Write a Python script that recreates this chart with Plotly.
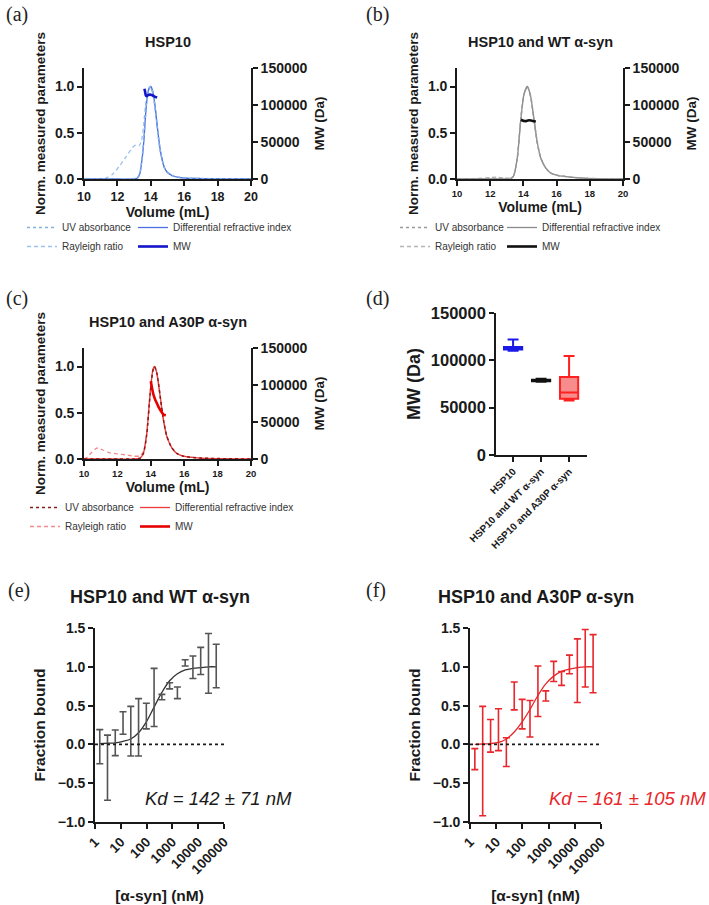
import plotly.graph_objects as go

W, H = 709, 905
FONT = "Liberation Sans, Arial, sans-serif"
SERIF = "Liberation Serif, Times New Roman, serif"
INK = "#1a1a1a"

# ---------------- Panel (a): HSP10 SEC-MALS ----------------
vol_a = [10, 12, 13.0, 13.2, 13.35, 13.5, 13.6, 13.7, 13.8, 13.9, 14.0, 14.1, 14.2, 14.3, 14.4, 14.5, 14.6, 14.8, 15.0, 15.3, 15.6, 16.0, 17.0, 20.0]
dri_a = [0, 0, 0, 0.01, 0.06, 0.25, 0.45, 0.72, 0.90, 0.98, 1.0, 0.96, 0.86, 0.72, 0.55, 0.40, 0.28, 0.13, 0.07, 0.035, 0.02, 0.01, 0.005, 0]
uv_a = [0, 0, 0.005, 0.015, 0.07, 0.27, 0.47, 0.74, 0.91, 0.98, 1.0, 0.95, 0.85, 0.70, 0.54, 0.39, 0.27, 0.13, 0.07, 0.035, 0.02, 0.01, 0.005, 0]
vol_a_ray = [10, 11, 11.3, 11.7, 12.1, 12.5, 12.9, 13.1, 13.3, 13.45, 13.55, 13.7, 13.85, 13.95, 14.0, 14.1, 14.2, 14.3, 14.4, 14.5, 14.6, 14.8, 15.0, 15.3, 15.6, 16.0, 17.0, 20.0]
ray_a = [0, 0, 0.01, 0.05, 0.135, 0.235, 0.34, 0.365, 0.36, 0.42, 0.55, 0.82, 0.96, 1.0, 0.99, 0.93, 0.84, 0.70, 0.53, 0.38, 0.27, 0.13, 0.07, 0.035, 0.02, 0.01, 0.005, 0]
vol_a_mw = [13.62, 13.66, 13.7, 13.75, 13.85, 13.95, 14.05, 14.15, 14.25, 14.38]
mw_a = [122000, 118000, 113000, 112000, 113500, 114000, 113500, 112500, 111000, 110000]

# ---------------- Panel (b): HSP10 + WT a-syn ----------------
vol_b = [10, 11, 12, 12.4, 12.8, 13.2, 13.4, 13.64, 13.84, 14.04, 14.24, 14.44, 14.64, 14.84, 15.04, 15.34, 15.64, 16.04, 16.84, 17.84, 20]
dri_b = [0, 0, 0, 0, 0, 0, 0.03, 0.24, 0.64, 0.92, 1.0, 0.89, 0.64, 0.39, 0.23, 0.12, 0.065, 0.04, 0.02, 0.007, 0]
uv_b = [0, 0, 0.005, 0.005, 0.005, 0.005, 0.03, 0.24, 0.64, 0.92, 1.0, 0.89, 0.64, 0.39, 0.23, 0.12, 0.065, 0.04, 0.02, 0.007, 0]
ray_b = [0.003, 0.005, 0.015, 0.02, 0.012, 0.01, 0.03, 0.24, 0.64, 0.92, 1.0, 0.89, 0.64, 0.39, 0.23, 0.12, 0.065, 0.04, 0.02, 0.007, 0]
vol_b_mw = [13.85, 13.95, 14.05, 14.15, 14.25, 14.35, 14.45, 14.55, 14.65, 14.75]
mw_b = [80000, 79000, 78300, 78200, 78800, 79300, 79000, 78500, 78000, 77800]

# ---------------- Panel (c): HSP10 + A30P a-syn ----------------
vol_c = [10, 12, 13.0, 13.36, 13.56, 13.76, 13.96, 14.12, 14.22, 14.36, 14.56, 14.76, 14.96, 15.26, 15.56, 15.96, 16.96, 20]
dri_c = [0, 0, 0, 0.01, 0.065, 0.28, 0.71, 0.96, 1.0, 0.93, 0.68, 0.42, 0.245, 0.12, 0.06, 0.03, 0.01, 0]
uv_c = [0, 0, 0, 0.01, 0.06, 0.27, 0.70, 0.95, 1.0, 0.93, 0.68, 0.42, 0.245, 0.12, 0.06, 0.03, 0.01, 0]
vol_c_ray = [10, 10.2, 10.4, 10.7, 10.85, 11.1, 11.5, 12, 12.5, 13, 13.36, 13.56, 13.76, 13.96, 14.12, 14.22, 14.36, 14.56, 14.76, 14.96, 15.26, 15.56, 15.96, 16.96, 20]
ray_c = [0, 0.02, 0.06, 0.11, 0.12, 0.10, 0.07, 0.055, 0.045, 0.03, 0.035, 0.08, 0.29, 0.71, 0.96, 1.0, 0.93, 0.68, 0.42, 0.245, 0.12, 0.06, 0.03, 0.01, 0]
vol_c_mw = [14.0, 14.08, 14.16, 14.26, 14.36, 14.46, 14.56, 14.66, 14.76, 14.9]
mw_c = [105000, 95000, 87000, 80500, 75500, 70500, 66500, 63000, 60000, 59000]

# ---------------- Panel (d): MW box plot ----------------
groups = ["HSP10", "HSP10 and WT α-syn", "HSP10 and A30P α-syn"]
box_min = [110000, 77500, 57500]
box_q1 = [111500, 78000, 59500]
box_med = [113000, 78500, 66000]
box_q3 = [114000, 79500, 82500]
box_max = [122000, 80500, 104500]

# ---------------- Panels (e), (f): MST binding ----------------
conc = [1.53, 3.05, 6.10, 12.2, 24.4, 48.8, 97.7, 195, 391, 781, 1563, 3125, 6250, 12500, 25000, 50000]
fb_wt = [-0.03, -0.30, 0.02, 0.275, 0.17, 0.22, 0.365, 0.605, 0.61, 0.755, 0.665, 1.05, 0.995, 1.075, 1.045, 1.01]
err_wt = [0.22, 0.42, 0.165, 0.145, 0.32, 0.37, 0.165, 0.375, 0.035, 0.04, 0.075, 0.04, 0.145, 0.175, 0.385, 0.28]
fit_wt = [0.01, 0.015, 0.02, 0.04, 0.07, 0.15, 0.29, 0.48, 0.67, 0.82, 0.91, 0.96, 0.98, 0.99, 1.0, 1.0]
fb_a30p = [-0.19, -0.215, 0.11, 0.19, -0.10, 0.625, 0.39, 0.33, 0.685, 0.625, 0.94, 0.85, 1.03, 0.95, 1.11, 1.04]
err_a30p = [0.135, 0.705, 0.21, 0.27, 0.185, 0.18, 0.19, 0.235, 0.325, 0.065, 0.13, 0.09, 0.12, 0.41, 0.37, 0.375]
fit_a30p = [0.0, 0.005, 0.01, 0.025, 0.07, 0.16, 0.29, 0.45, 0.63, 0.78, 0.88, 0.94, 0.97, 0.99, 1.0, 1.0]


def xd(l, r):
    return [l / W, r / W]


def yd(top, bottom):
    return [1 - bottom / H, 1 - top / H]


fig = go.Figure()

sec_panels = [
    dict(xa="x", yl="y", yr="y2", l1="legend", l2="legend2",
         vol=vol_a, dri=dri_a, uv=uv_a, vray=vol_a_ray, ray=ray_a, vmw=vol_a_mw, mw=mw_a,
         c_uv="#7fb0e6", c_ray="#9cc3ee", c_dri="#4d6fe0", c_mw="#1414c8"),
    dict(xa="x2", yl="y3", yr="y4", l1="legend3", l2="legend4",
         vol=vol_b, dri=dri_b, uv=uv_b, vray=vol_b, ray=ray_b, vmw=vol_b_mw, mw=mw_b,
         c_uv="#9a9a9a", c_ray="#b5b5b5", c_dri="#8a8a8a", c_mw="#111111"),
    dict(xa="x3", yl="y5", yr="y6", l1="legend5", l2="legend6",
         vol=vol_c, dri=dri_c, uv=uv_c, vray=vol_c_ray, ray=ray_c, vmw=vol_c_mw, mw=mw_c,
         c_uv="#8b1a1a", c_ray="#f28c8c", c_dri="#ee3b3b", c_mw="#e60000"),
]

for p in sec_panels:
    fig.add_trace(go.Scatter(x=p["vray"], y=p["ray"], xaxis=p["xa"], yaxis=p["yl"], mode="lines",
                             name="Rayleigh ratio", legend=p["l1"], legendrank=2,
                             line=dict(color=p["c_ray"], width=1.3, dash="4px,3px", shape="spline", smoothing=0.6)))
    fig.add_trace(go.Scatter(x=p["vol"], y=p["dri"], xaxis=p["xa"], yaxis=p["yl"], mode="lines",
                             name="Differential refractive index", legend=p["l2"], legendrank=1,
                             line=dict(color=p["c_dri"], width=1.3, shape="spline", smoothing=0.6)))
    fig.add_trace(go.Scatter(x=p["vol"], y=p["uv"], xaxis=p["xa"], yaxis=p["yl"], mode="lines",
                             name="UV absorbance", legend=p["l1"], legendrank=1,
                             line=dict(color=p["c_uv"], width=1.5, dash="dot", shape="spline", smoothing=0.6)))
    fig.add_trace(go.Scatter(x=p["vmw"], y=p["mw"], xaxis=p["xa"], yaxis=p["yr"], mode="lines",
                             name="MW", legend=p["l2"], legendrank=2,
                             line=dict(color=p["c_mw"], width=2.6, shape="spline", smoothing=0.6)))

box_line = ["#1a1ae6", "#111111", "#ff2020"]
box_fill = ["rgba(40,40,230,0.6)", "rgba(20,20,20,0.8)", "rgba(245,120,120,0.85)"]
for i in range(3):
    fig.add_trace(go.Box(x=[i], q1=[box_q1[i]], median=[box_med[i]], q3=[box_q3[i]],
                         lowerfence=[box_min[i]], upperfence=[box_max[i]],
                         xaxis="x4", yaxis="y7", width=0.65, whiskerwidth=0.6,
                         line=dict(color=box_line[i], width=2), fillcolor=box_fill[i],
                         boxpoints=False, showlegend=False, name=groups[i]))

for xa, ya, fb, err, fit, col, ecol in [("x5", "y8", fb_wt, err_wt, fit_wt, "#333333", "#555555"),
                                        ("x6", "y9", fb_a30p, err_a30p, fit_a30p, "#e8262b", "#e8262b")]:
    fig.add_trace(go.Scatter(x=conc, y=fit, xaxis=xa, yaxis=ya, mode="lines", showlegend=False,
                             line=dict(color=col, width=1.3, shape="spline", smoothing=1)))
    fig.add_trace(go.Scatter(x=conc, y=fb, xaxis=xa, yaxis=ya, mode="markers", showlegend=False,
                             marker=dict(size=1, color="rgba(0,0,0,0)"),
                             error_y=dict(type="data", array=err, symmetric=True, color=ecol,
                                          thickness=1.6, width=3.5)))

axis_common = dict(showline=True, linecolor=INK, linewidth=1.6, ticks="outside", ticklen=5, tickwidth=1.6,
                   tickcolor=INK, showgrid=False, zeroline=False, fixedrange=True, automargin=False)


def tf(size):
    return dict(family=FONT, size=size, color=INK, weight="bold")


def ttl(text, size, standoff):
    return dict(text=text, font=tf(size), standoff=standoff)


# SEC axes
for xa, ya, yr, xdom, ydom, xts in [("xaxis", "yaxis", "yaxis2", xd(84, 251), yd(68, 179), 12.5),
                                    ("xaxis2", "yaxis3", "yaxis4", xd(457, 623), yd(68, 179), 9.5),
                                    ("xaxis3", "yaxis5", "yaxis6", xd(84, 251), yd(348, 459), 9.5)]:
    xref = "x" + xa[5:]
    yref = "y" + ya[5:]
    fig.layout[xa] = dict(axis_common, domain=xdom, range=[10, 20], tickvals=[10, 12, 14, 16, 18, 20],
                          anchor=yref, tickfont=tf(xts), title=ttl("Volume (mL)", 14, 3))
    fig.layout[ya] = dict(axis_common, domain=ydom, range=[0, 1.2], tickvals=[0, 0.5, 1.0], tickformat=".1f",
                          anchor=xref, tickfont=tf(14), title=ttl("Norm. measured parameters", 13.5, 6))
    fig.layout[yr] = dict(axis_common, overlaying=yref, side="right", range=[0, 150000],
                          tickvals=[0, 50000, 100000, 150000], tickformat="d", anchor=xref,
                          tickfont=tf(14), title=ttl("MW (Da)", 13.5, 8))

fig.layout["xaxis4"] = dict(axis_common, domain=xd(496, 587), range=[-0.61, 2.64], tickvals=[0, 1, 2],
                            ticktext=groups, tickangle=-45, anchor="y7", tickfont=tf(10))
fig.layout["yaxis7"] = dict(axis_common, domain=yd(313, 455), range=[0, 150000], tickvals=[0, 50000, 100000, 150000],
                            tickformat="d", anchor="x4", tickfont=tf(16.5), title=ttl("MW (Da)", 18, 6))

for xa, ya, xdom in [("xaxis5", "yaxis8", xd(95, 224)), ("xaxis6", "yaxis9", xd(470, 601))]:
    xref = "x" + xa[5:]
    yref = "y" + ya[5:]
    fig.layout[xa] = dict(axis_common, domain=xdom, type="log", range=[0, 5],
                          tickvals=[1, 10, 100, 1000, 10000, 100000],
                          ticktext=["1", "10", "100", "1000", "10000", "100000"], tickangle=-45,
                          anchor=yref, tickfont=tf(13.5), title=ttl("[α-syn] (nM)", 15.5, 14))
    fig.layout[ya] = dict(axis_common, domain=yd(628, 822), range=[-1.0, 1.5], tickvals=[-1, -0.5, 0, 0.5, 1.0, 1.5],
                          tickformat=".1f", anchor=xref, tickfont=tf(14), title=ttl("Fraction bound", 15.5, 8))

shapes = []
for xr, yr_ in [("x5 domain", "y8"), ("x6 domain", "y9")]:
    shapes.append(dict(type="line", xref=xr, yref=yr_, x0=0, x1=1, y0=0, y1=0,
                       line=dict(color=INK, width=1.6, dash="dot")))

annotations = []


def ann(text, x, y, size, family=FONT, color=INK, xanchor="center", italic=False):
    annotations.append(dict(text=text, x=x / W, y=1 - y / H, xref="paper", yref="paper", showarrow=False,
                            xanchor=xanchor, yanchor="middle",
                            font=dict(family=family, size=size, color=color, style="italic" if italic else "normal")))


for lab, x, y in [("(a)", 4, 15), ("(b)", 364, 15), ("(c)", 4, 298), ("(d)", 364, 298), ("(e)", 6, 590), ("(f)", 364, 590)]:
    ann(lab, x, y, 20, family=SERIF, color="#222", xanchor="left")

ann("<b>HSP10</b>", 167.5, 42, 14.5)
ann("<b>HSP10 and WT α-syn</b>", 540, 42, 14.5)
ann("<b>HSP10 and A30P α-syn</b>", 167.5, 322, 14.5)
ann("<b>HSP10 and WT α-syn</b>", 160, 597, 18)
ann("<b>HSP10 and A30P α-syn</b>", 536, 597, 18)
ann("Kd = 142 ± 71 nM", 218, 798, 18.5, italic=True)
ann("Kd = 161 ± 105 nM", 627, 798, 18.5, color="#e8262b", italic=True)

legend_common = dict(font=dict(size=10, family=FONT, color="#333"), bgcolor="rgba(0,0,0,0)", itemwidth=30,
                     tracegroupgap=0, xanchor="left", yanchor="top", orientation="v", itemclick=False,
                     itemdoubleclick=False, traceorder="normal")

fig.update_layout(
    width=W, height=H, margin=dict(l=0, r=0, t=0, b=0, autoexpand=False),
    paper_bgcolor="white", plot_bgcolor="rgba(0,0,0,0)",
    hovermode=False, boxmode="overlay",
    shapes=shapes, annotations=annotations,
    legend=dict(legend_common, x=22 / W, y=1 - 213 / H),
    legend2=dict(legend_common, x=133 / W, y=1 - 213 / H),
    legend3=dict(legend_common, x=395 / W, y=1 - 213 / H),
    legend4=dict(legend_common, x=502 / W, y=1 - 213 / H),
    legend5=dict(legend_common, x=25 / W, y=1 - 493 / H),
    legend6=dict(legend_common, x=135 / W, y=1 - 493 / H),
)

fig.write_html("out.html")
